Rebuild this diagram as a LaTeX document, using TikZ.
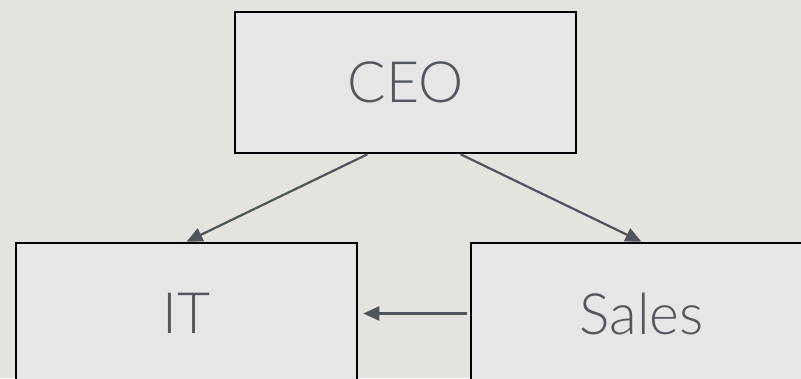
\documentclass[tikz,border=0pt]{standalone}
\usepackage{fontspec}
\setmainfont{Lato Light}
\usetikzlibrary{arrows.meta}
\definecolor{paper}{RGB}{229,227,222}
\definecolor{boxgray}{RGB}{230,230,230}
\definecolor{labelgray}{RGB}{84,88,94}
\definecolor{linkgray}{RGB}{80,85,92}
\begin{document}
\begin{tikzpicture}[x=1pt,y=-1pt,
        box/.style={draw=black,line width=2.5pt,fill=boxgray,minimum width=341pt,minimum height=141pt,text=labelgray,font=\fontsize{57}{62}\selectfont},
        link/.style={line width=2.2pt,draw=linkgray,-{Triangle[length=16pt,width=14pt]}}]
    \fill[paper] (0,0) rectangle (801,378);
    \useasboundingbox (0,0) rectangle (801,378);
    \node[box] (CEO) at (405.5,82.5) {CEO};
    \node[box] (IT) at (186.5,313.5) {IT};
    \node[box] (Sales) at (641.5,313.5) {Sales};
    \draw[link] ([xshift=-38pt]CEO.south) -- (IT.north);
    \draw[link] ([xshift=55pt]CEO.south) -- (Sales.north);
    \draw[link,shorten <=3pt,shorten >=5pt] (Sales.west) -- (IT.east);
\end{tikzpicture}
\end{document}
